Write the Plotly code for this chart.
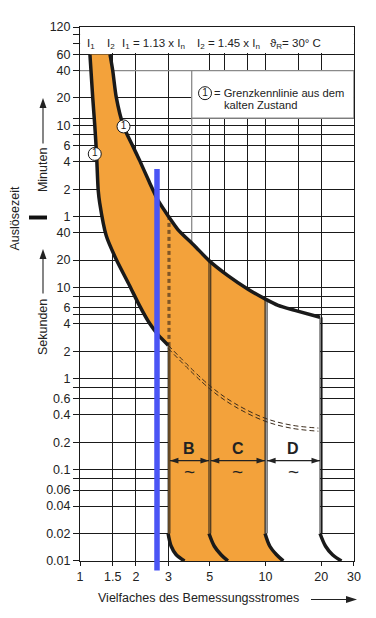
import numpy as np
import plotly.graph_objects as go

# ---------------- data ----------------
x_ticks = [1, 1.5, 2, 3, 5, 10, 20, 30]
x_tick_text = ["1", "1.5", "2", "3", "5", "10", "20", "30"]
x_minor_grid = [6, 8, 15]

# time axis in seconds; labels above 1 min are shown in minutes
y_ticks = [7200, 3600, 2400, 1200, 600, 360, 240, 120, 60,
           40, 20, 10, 6, 4, 2, 1, 0.6, 0.4, 0.2, 0.1, 0.06, 0.04, 0.02, 0.01]
y_tick_text = ["120", "60", "40", "20", "10", "6", "4", "2", "1",
               "40", "20", "10", "6", "4", "2", "1", "0.6", "0.4",
               "0.2", "0.1", "0.06", "0.04", "0.02", "0.01"]
y_minor_grid = [6000, 4800, 720, 480, 8, 5, 0.8, 0.08]

# lower limit curve I1 (multiple of In, seconds)
i1_x = [1.13, 1.17, 1.20, 1.226, 1.252, 1.276, 1.384, 1.565, 1.848, 2.089, 2.35, 2.644, 2.985]
i1_y = [3600, 1210, 599, 296, 117, 84.5, 36.9, 20.4, 10.5, 6.36, 4.15, 3.0, 2.33]

# upper limit curve I2
i2_x = [1.45, 1.50, 1.565, 1.715, 1.926, 2.089, 2.35, 2.644, 2.985, 3.37, 4.14, 4.98,
        6.27, 8.05, 10.0, 11.7, 14.4, 19.7]
i2_y = [3600, 2400, 1240, 585, 354, 251, 147, 89, 61, 43.2, 28.7, 19.6,
        13.5, 9.58, 7.45, 6.36, 5.61, 4.71]

# continuation of I1 (cold state), double dashed line
cold_x = [2.985, 4.98, 6.81, 9.92, 13.8, 19.3]
cold_y_upper = [2.33, 0.845, 0.537, 0.369, 0.309, 0.287]
cold_y_lower = [2.15, 0.780, 0.497, 0.342, 0.286, 0.265]
cold_vertical_top = 61

# tripping bands B, C, D
bands = ["B", "C", "D"]
band_edges = [3, 5, 10, 20]
band_line_left = [2.985, 4.96, 9.95, 19.7]
band_line_right = [3.05, 5.07, 10.2, 20.2]
band_line_top = [2.33, 19.6, 7.45, 4.71]
arc_x = [[2.985, 3.10, 3.30, 3.66],
         [4.96, 5.30, 5.76, 6.27],
         [9.95, 10.56, 11.48, 12.48],
         [19.7, 21.1, 23.0, 25.7]]
arc_y = [0.02, 0.0145, 0.0117, 0.01]
band_arrow_t = 0.126

circle_x = [1.715, 1.20]
circle_y = [585, 292]

blue_top = 199

legend_box_x = [4, 30]
legend_box_y = [720, 2400]

# ---------------- geometry helpers ----------------
OFF = 8                      # page body margin of the browser
W, H = 376 - OFF, 618 - OFF
ML, MR, MT, MB = 80 - OFF, 22, 20 - OFF, 57
PW, PH = W - ML - MR, H - MT - MB
XMAX = np.log10(30)
YMIN, YMAX = -2.0, np.log10(7200)


def xp(v):
    return np.log10(v) / XMAX


def yp(v):
    return (np.log10(v) - YMIN) / (YMAX - YMIN)


def ppx(x):
    # x in screenshot pixels -> paper
    return (x - OFF - ML) / PW


def ppy(y):
    return (H - MB - (y - OFF)) / PH


ORANGE = "#F3A23B"
INK = "#1a1a1a"

fig = go.Figure()


def add(x, y, **kw):
    fig.add_trace(go.Scatter(x=x, y=y, showlegend=False, hoverinfo="skip", **kw))


# header white band (hides grid)
add([1, 30, 30, 1, 1], [3740, 3740, 7200, 7200, 3740], mode="lines", fill="toself",
    fillcolor="white", line=dict(width=0))
# legend box
lx0, lx1 = legend_box_x
ly0, ly1 = legend_box_y
add([lx0, lx1, lx1, lx0, lx0], [ly0, ly0, ly1, ly1, ly0], mode="lines", fill="toself",
    fillcolor="white", line=dict(width=1.3, color="#8a8a8a"))
add([1, lx0], [ly1, ly1], mode="lines", line=dict(width=1.3, color="#8a8a8a"))
add([lx0, lx0], [0.01, ly0], mode="lines", line=dict(width=1.3, color="#8a8a8a"))

# D band white area
d_x = [x for x in i2_x if x >= 10] + arc_x[3] + [10.0]
d_y = [y for x, y in zip(i2_x, i2_y) if x >= 10] + arc_y + [0.01]
add(d_x, d_y, mode="lines", fill="toself", fillcolor="white", line=dict(width=0))

# orange area
o_x = list(i1_x) + arc_x[0] + arc_x[2][::-1] + [x for x in i2_x if x <= 10][::-1]
o_y = list(i1_y) + arc_y + arc_y[::-1] + [y for x, y in zip(i2_x, i2_y) if x <= 10][::-1]
add(o_x, o_y, mode="lines", fill="toself", fillcolor=ORANGE, line=dict(width=0))

# thin band lines (double)
for xl, xr, top in zip(band_line_left, band_line_right, band_line_top):
    for xx in (xl, xr):
        add([xx, xx], [top, 0.02], mode="lines", line=dict(width=1, color=INK))

# dashed vertical at 3 between I2 and I1
for xx in (band_line_left[0], band_line_right[0]):
    add([xx, xx], [cold_vertical_top, band_line_top[0]], mode="lines",
        line=dict(width=1, color="#3a2a1a", dash="4px,3px"))
# cold-state continuation
for yy in (cold_y_upper, cold_y_lower):
    add(cold_x, yy, mode="lines", line=dict(width=1, color="#3a2a1a", dash="5px,3px", shape="spline"))

# arcs at the bottom
for ax_ in arc_x:
    add(ax_, arc_y, mode="lines", line=dict(width=3.5, color=INK, shape="spline"))

# main curves
add(i1_x, i1_y, mode="lines", line=dict(width=3.5, color=INK, shape="spline", smoothing=0.6))
add(i2_x, i2_y, mode="lines", line=dict(width=3.5, color=INK, shape="spline", smoothing=0.6))

# double arrows across the bands
for i in range(len(bands)):
    add([band_line_right[i], band_line_left[i + 1]], [band_arrow_t, band_arrow_t],
        mode="lines+markers", line=dict(width=1.2, color="#222"),
        marker=dict(symbol="arrow", size=9, angle=[-90, 90], color="#222",
                    line=dict(width=0)))

# circled "1" markers on curves + legend symbol
leg_sym_x = 10 ** (ppx(205) * XMAX)
leg_sym_y = 10 ** (YMIN + ppy(87) * (YMAX - YMIN))
add(circle_x + [leg_sym_x], circle_y + [leg_sym_y], mode="markers+text",
    marker=dict(symbol="circle", size=13, color="white", line=dict(width=1, color=INK)),
    text=["1", "1", "1"], textposition="middle center",
    textfont=dict(size=10, color=INK, family="Liberation Sans, Arial"), cliponaxis=False)

# ---------------- annotations ----------------
ann = []


def txt(x, y, s, size=11, xanchor="left", **kw):
    ann.append(dict(x=x, y=y, xref="paper", yref="paper", text=s, showarrow=False,
                    xanchor=xanchor, yanchor="middle",
                    font=dict(size=size, color="#222", family="Liberation Sans, Arial"), **kw))


hy = ppy(37.5)
txt(ppx(84.5), hy, "I<sub>1</sub>", size=11.5)
txt(ppx(105), hy, "I<sub>2</sub>", size=11.5)
txt(ppx(119.5), hy, "I<sub>1</sub> = 1.13 x I<sub>n</sub>", size=11.5)
txt(ppx(194.5), hy, "I<sub>2</sub> = 1.45 x I<sub>n</sub>", size=11.5)
txt(ppx(268), hy, "ϑ<sub>R</sub>= 30° C", size=11.5)

txt(ppx(212), ppy(87), "= Grenzkennlinie aus dem", size=11.2)
txt(ppx(222), ppy(99.5), "kalten Zustand", size=11.2)

for i, name in enumerate(bands):
    lo, hi = band_edges[i], band_edges[i + 1]
    mid = np.sqrt(lo * hi)
    txt(xp(mid), yp(0.172), "<b>%s</b>" % name, size=16, xanchor="center")
    txt(xp(mid), yp(0.097), "~", size=19, xanchor="center")

# axis titles
txt(ppx(96), ppy(598.5), "Vielfaches des Bemessungsstromes", size=12.5)
txt(ppx(15), ppy(214), "Auslösezeit", size=12.5, xanchor="center", textangle=-90)
txt(ppx(43), ppy(165), "Minuten", size=12.5, xanchor="center", textangle=-90)
txt(ppx(43), ppy(324), "Sekunden", size=12.5, xanchor="center", textangle=-90)


def paper_path(points):
    return "M " + " L ".join("%.5f,%.5f" % (ppx(a), ppy(b)) for a, b in points) + " Z"


shapes = [
    # blue marker bar
    dict(type="line", xref="paper", yref="paper", x0=ppx(157), x1=ppx(157),
         y0=yp(blue_top), y1=ppy(570.5), line=dict(color="#4A55F5", width=5.5), layer="above"),
    # thick dash between Minuten/Sekunden
    dict(type="rect", xref="paper", yref="paper", x0=ppx(29), x1=ppx(47),
         y0=ppy(215), y1=ppy(211), fillcolor="#111", line=dict(width=0)),
    # x-title arrow
    dict(type="line", xref="paper", yref="paper", x0=ppx(311), x1=ppx(349),
         y0=ppy(600), y1=ppy(600), line=dict(color="#222", width=1.1)),
    dict(type="path", xref="paper", yref="paper",
         path=paper_path([(357, 600), (346, 596.5), (346, 603.5)]),
         fillcolor="#222", line=dict(width=0)),
]
for tip, tail in ((92, 138), (245, 290)):
    shapes.append(dict(type="line", xref="paper", yref="paper", x0=ppx(43), x1=ppx(43),
                       y0=ppy(tail), y1=ppy(tip + 8), line=dict(color="#222", width=1.1)))
    shapes.append(dict(type="path", xref="paper", yref="paper",
                       path=paper_path([(43, tip), (39.5, tip + 10), (46.5, tip + 10)]),
                       fillcolor="#222", line=dict(width=0)))

fig.update_layout(
    width=W, height=H, margin=dict(l=ML, r=MR, t=MT, b=MB),
    paper_bgcolor="white", plot_bgcolor="white", showlegend=False,
    font=dict(family="Liberation Sans, Arial, sans-serif", size=12, color="#222"),
    annotations=ann, shapes=shapes,
)
fig.update_xaxes(type="log", range=[-0.0005, XMAX + 0.0005], tickmode="array",
                 tickvals=x_ticks, ticktext=x_tick_text, showgrid=True, gridcolor=INK,
                 gridwidth=1, ticks="outside", ticklen=4, tickcolor=INK, showline=True,
                 linecolor=INK, linewidth=1, mirror=True, zeroline=False,
                 tickfont=dict(size=12.5, color="#222"),
                 minor=dict(tickmode="array", tickvals=x_minor_grid, showgrid=True,
                            gridcolor=INK, gridwidth=1, ticks=""))
fig.update_yaxes(type="log", range=[YMIN - 0.0005, YMAX + 0.0005], tickmode="array",
                 tickvals=y_ticks, ticktext=y_tick_text, showgrid=True, gridcolor=INK,
                 gridwidth=1, ticks="outside", ticklen=6, tickcolor=INK, showline=True,
                 linecolor=INK, linewidth=1, mirror=True, zeroline=False,
                 tickfont=dict(size=12.5, color="#222"),
                 minor=dict(tickmode="array", tickvals=y_minor_grid, showgrid=True,
                            gridcolor=INK, gridwidth=1, ticks="outside", ticklen=6,
                            tickcolor=INK))

fig.write_html("out.html")
